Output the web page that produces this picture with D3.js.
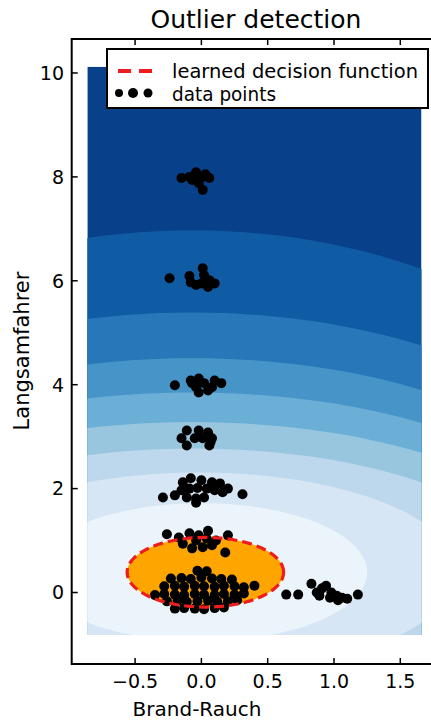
<!DOCTYPE html>
<html>
<head>
<meta charset="utf-8">
<script src="https://cdn.jsdelivr.net/npm/d3@7"></script>
<style>
  body { margin: 0; background: #fff; }
  svg { display: block; }
  text { font-family: "DejaVu Sans", sans-serif; fill: #000; }
</style>
</head>
<body>
<svg id="chart" width="431" height="724"></svg>
<script>
// ---- data -------------------------------------------------------------
const xTicks = [-0.5, 0, 0.5, 1, 1.5];
const yTicks = [0, 2, 4, 6, 8, 10];

// extent of the evaluated decision-function grid
const gridX = [-0.86, 1.66];
const gridY = [-0.82, 10.12];

// iso-lines of the decision function, outermost first (centre, semi-axes)
const levelCX = [-0.07, -0.07, -0.07, -0.07, -0.07, -0.06, -0.02, 0.00];
const levelCY = [0.39, 0.39, 0.39, 0.39, 0.39, 0.39, 0.39, 0.39];
const levelA  = [3.75, 3.55, 3.30, 3.10, 2.85, 2.50, 1.95, 1.25];
const levelB  = [6.58, 5.00, 4.12, 3.46, 2.89, 2.38, 1.92, 1.33];
const bandColors = ["#08408a", "#105ca4", "#2878b9", "#4795c8", "#6baed6",
                    "#98c6df", "#bdd7ec", "#d6e6f4", "#ecf4fb"];

// learned decision boundary (threshold level)
const boundaryCenter = [0.03, 0.39];
const boundaryAxes = [0.59, 0.67];

// observations
const group8 = [[-0.15,7.98],[-0.09,8.00],[-0.04,8.09],[0.01,8.00],[0.06,7.98],
                [-0.02,7.88],[0.01,7.75],[-0.07,7.94],[-0.03,7.98],[0.03,8.05]];
const group6 = [[-0.24,6.05],[-0.09,6.09],[-0.08,5.97],[0.01,6.24],[0.02,6.11],
                [0.06,6.01],[0.05,5.88],[0.10,5.95],[0.00,5.95],[-0.04,5.92]];
const group4 = [[-0.20,3.99],[-0.08,4.08],[-0.02,4.12],[-0.04,3.95],[0.02,4.03],
                [-0.02,3.85],[0.05,3.89],[0.10,4.08],[0.15,4.03],[0.08,3.95],[-0.07,4.03]];
const group3 = [[-0.11,3.12],[-0.15,2.97],[-0.11,2.83],[-0.02,3.12],[0.05,3.08],
                [0.06,2.83],[0.01,2.97],[-0.05,2.97],[0.08,2.97],[0.07,2.90]];
const group2 = [[-0.29,1.83],[-0.20,1.87],[0.31,1.89],[0.20,2.00],[-0.14,2.12],
                [-0.08,2.20],[0.00,2.16],[0.08,2.12],[0.14,2.10],[-0.15,1.97],
                [-0.09,2.00],[-0.03,2.01],[0.04,2.00],[0.10,1.97],[-0.11,1.83],
                [-0.04,1.81],[0.02,1.83],[-0.04,1.73],[0.16,1.93]];
const group1 = [[-0.26,1.12],[-0.09,1.14],[0.05,1.19],[0.20,1.10],[-0.14,0.94],
                [-0.04,1.00],[0.04,1.04],[0.11,1.00],[-0.07,0.85],[0.01,0.87],
                [0.08,0.91],[0.18,0.77],[-0.17,1.06],[-0.02,1.10]];
const group0 = [[-0.03,0.42],[0.04,0.41],
                [-0.23,0.27],[-0.15,0.28],[-0.08,0.26],[0.00,0.29],[0.08,0.27],[0.15,0.26],[0.23,0.25],
                [-0.28,0.12],[-0.20,0.13],[-0.13,0.11],[-0.05,0.13],[0.02,0.12],[0.10,0.11],
                [0.17,0.13],[0.25,0.12],[0.32,0.10],[0.40,0.13],
                [-0.35,-0.05],[-0.28,-0.03],[-0.20,-0.04],[-0.13,-0.05],[-0.05,-0.03],
                [0.02,-0.04],[0.10,-0.05],[0.17,-0.03],[0.25,-0.04],[0.32,-0.02],
                [-0.26,-0.17],[-0.18,-0.16],[-0.11,-0.18],[-0.03,-0.17],[0.05,-0.16],
                [0.12,-0.18],[0.20,-0.17],[0.27,-0.15],
                [-0.20,-0.31],[-0.13,-0.30],[-0.05,-0.31],[0.02,-0.32],[0.10,-0.30],[0.17,-0.29]];
const outliers = [[0.64,-0.04],[0.73,-0.04],[0.83,0.17],[0.87,0.00],[0.91,0.08],
                  [0.94,0.13],[0.98,0.00],[1.02,-0.06],[1.06,-0.10],[1.10,-0.12],
                  [1.18,-0.04],[0.89,-0.06],[0.97,-0.10],[1.03,-0.15]];

// ---- chart ------------------------------------------------------------
const svg = d3.select("#chart");
const plotL = 71.7, plotR = 454, plotT = 39, plotB = 664;

const x = d3.scaleLinear().domain([-0.978, 1.905]).range([plotL, plotR]);
const y = d3.scaleLinear().domain([-1.376, 10.654]).range([plotB, plotT]);

svg.append("defs").append("clipPath").attr("id", "grid-clip")
  .append("rect")
  .attr("x", x(gridX[0])).attr("y", y(gridY[1]))
  .attr("width", x(gridX[1]) - x(gridX[0]))
  .attr("height", y(gridY[0]) - y(gridY[1]));

const ellipsePts = (cx, cy, a, b) =>
  d3.range(0, 360, 2).map(t => {
    const r = t * Math.PI / 180;
    return [cx + a * Math.cos(r), cy + b * Math.sin(r)];
  });
const line = d3.line().x(d => x(d[0])).y(d => y(d[1])).curve(d3.curveLinearClosed);

// filled decision-function bands
const bands = svg.append("g").attr("clip-path", "url(#grid-clip)");
bands.append("rect")
  .attr("x", x(gridX[0])).attr("y", y(gridY[1]))
  .attr("width", x(gridX[1]) - x(gridX[0]))
  .attr("height", y(gridY[0]) - y(gridY[1]))
  .attr("fill", bandColors[0]);
bands.selectAll("path.band")
  .data(levelA.map((a, i) => ellipsePts(levelCX[i], levelCY[i], a, levelB[i])))
  .join("path")
  .attr("class", "band")
  .attr("d", line)
  .attr("fill", (d, i) => bandColors[i + 1]);

// inlier region
const boundary = ellipsePts(boundaryCenter[0], boundaryCenter[1], boundaryAxes[0], boundaryAxes[1]);
svg.append("path").attr("d", line(boundary)).attr("fill", "#ffa500");

// observations
const points = [].concat(group8, group6, group4, group3, group2, group1, group0, outliers);
svg.append("g").selectAll("circle")
  .data(points).join("circle")
  .attr("cx", d => x(d[0])).attr("cy", d => y(d[1]))
  .attr("r", 5).attr("fill", "#000");

// decision boundary line
svg.append("path").attr("d", line(boundary))
  .attr("fill", "none").attr("stroke", "#ee1c1c")
  .attr("stroke-width", 3.2).attr("stroke-dasharray", "10,5");

// frame
svg.append("rect")
  .attr("x", plotL).attr("y", plotT)
  .attr("width", plotR - plotL).attr("height", plotB - plotT)
  .attr("fill", "none").attr("stroke", "#000").attr("stroke-width", 2);

// ticks (inward, all sides)
const tickLen = 6;
const tg = svg.append("g").attr("stroke", "#000").attr("stroke-width", 1.5);
xTicks.forEach(v => {
  tg.append("line").attr("x1", x(v)).attr("x2", x(v)).attr("y1", plotB).attr("y2", plotB - tickLen);
  tg.append("line").attr("x1", x(v)).attr("x2", x(v)).attr("y1", plotT).attr("y2", plotT + tickLen);
});
yTicks.forEach(v => {
  tg.append("line").attr("x1", plotL).attr("x2", plotL + tickLen).attr("y1", y(v)).attr("y2", y(v));
});

const fmtX = d3.format(".1f");
svg.append("g").selectAll("text").data(xTicks).join("text")
  .attr("x", d => x(d)).attr("y", 688)
  .attr("text-anchor", "middle").attr("font-size", 19)
  .text(d => fmtX(d).replace("-", "\u2212"));
svg.append("g").selectAll("text").data(yTicks).join("text")
  .attr("x", 64).attr("y", d => y(d)).attr("dy", "0.36em")
  .attr("text-anchor", "end").attr("font-size", 19)
  .text(d => d);

// labels and title
svg.append("text").attr("x", 197).attr("y", 716)
  .attr("text-anchor", "middle").attr("font-size", 20).text("Brand-Rauch");
svg.append("text").attr("transform", "translate(29,351) rotate(-90)")
  .attr("text-anchor", "middle").attr("font-size", 21).text("Langsamfahrer");
svg.append("text").attr("x", 256).attr("y", 28)
  .attr("text-anchor", "middle").attr("font-size", 25).text("Outlier detection");

// legend
const lg = svg.append("g");
lg.append("rect").attr("x", 107).attr("y", 49).attr("width", 321).attr("height", 59)
  .attr("fill", "#fff").attr("stroke", "#000").attr("stroke-width", 2);
lg.append("line").attr("x1", 118).attr("x2", 153).attr("y1", 71).attr("y2", 71)
  .attr("stroke", "#ee1c1c").attr("stroke-width", 4).attr("stroke-dasharray", "13,8");
lg.selectAll("circle").data([[119, 4], [133, 5], [148, 4.5]]).join("circle")
  .attr("cx", d => d[0]).attr("cy", 93).attr("r", d => d[1]).attr("fill", "#000");
lg.append("text").attr("x", 172).attr("y", 78).attr("font-size", 19)
  .attr("textLength", 246).attr("lengthAdjust", "spacingAndGlyphs")
  .text("learned decision function");
lg.append("text").attr("x", 172).attr("y", 101).attr("font-size", 19)
  .attr("textLength", 104).attr("lengthAdjust", "spacingAndGlyphs")
  .text("data points");
</script>
</body>
</html>
